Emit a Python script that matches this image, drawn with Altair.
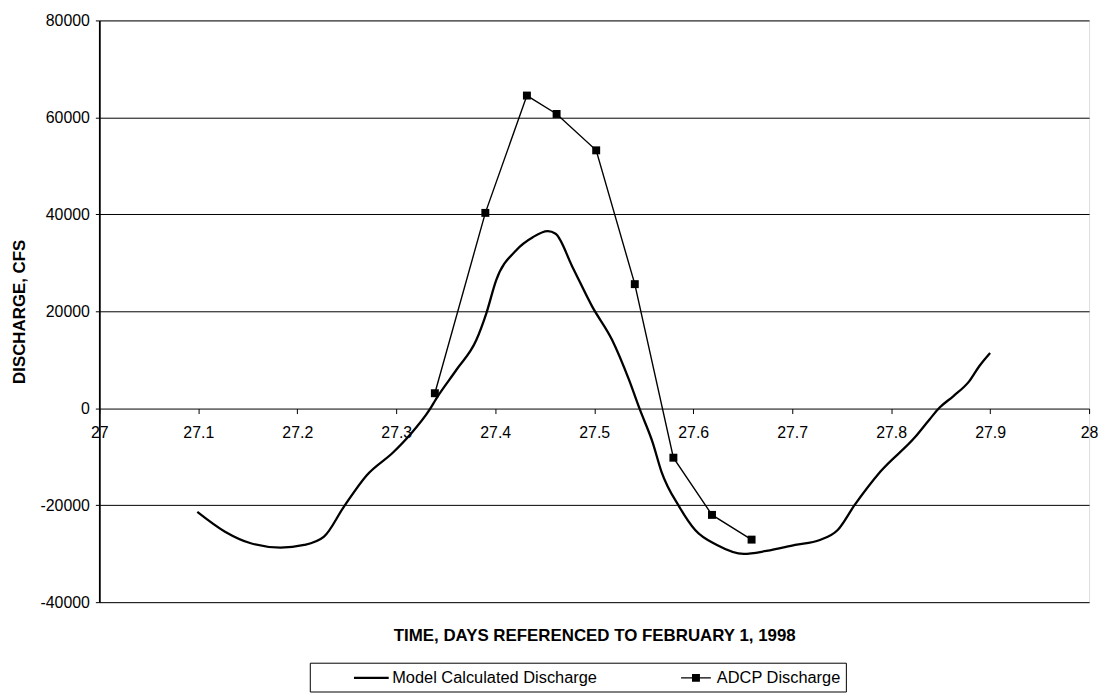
import altair as alt
import pandas as pd

# Model calculated discharge (days referenced to Feb 1, 1998; cfs)
model_t = [27.099, 27.127, 27.153, 27.183, 27.207, 27.227, 27.247, 27.270, 27.297, 27.313,
           27.334, 27.340, 27.361, 27.381, 27.391, 27.401, 27.421, 27.438, 27.453, 27.461,
           27.478, 27.498, 27.518, 27.535, 27.546, 27.559, 27.568, 27.586, 27.602, 27.624,
           27.651, 27.674, 27.703, 27.728, 27.746, 27.763, 27.789, 27.824, 27.839, 27.849,
           27.863, 27.879, 27.889, 27.900]
model_q = [-21370, -25460, -27850, -28740, -28200, -26490, -20340, -13860, -9080, -5670,
           -200, 1840, 7990, 14130, 19590, 26420, 32560, 35290, 36520, 35980,
           29150, 20960, 14130, 5940, -200, -7030, -13110, -20340, -25120, -28200,
           -30040, -29430, -28200, -27170, -25120, -20000, -13110, -6000, -2250, 140,
           2520, 5590, 8660, 11400]

# ADCP measured discharge
adcp_t = [27.339, 27.390, 27.432, 27.462, 27.502, 27.541, 27.580, 27.619, 27.659]
adcp_q = [3100, 40300, 64500, 60700, 53200, 25600, -10200, -22000, -27100]

series_names = ["Model Calculated Discharge", "ADCP Discharge"]
x_ticks = [27, 27.1, 27.2, 27.3, 27.4, 27.5, 27.6, 27.7, 27.8, 27.9, 28]
y_ticks = [-40000, -20000, 0, 20000, 40000, 60000, 80000]

model_df = pd.DataFrame({"t": model_t, "q": model_q, "series": series_names[0]})
adcp_df = pd.DataFrame({"t": adcp_t, "q": adcp_q, "series": series_names[1]})

FONT = "Liberation Sans"
W, H = 997, 586

x_scale = alt.Scale(domain=[27, 28], nice=False, zero=False)
y_scale = alt.Scale(domain=[-40000, 80000], nice=False, zero=False)

y_axis = alt.Axis(
    title="DISCHARGE, CFS", values=y_ticks,
    labelExpr="datum.value + ''",
    grid=True, gridColor="#000000", gridWidth=1, gridOpacity=1,
    domain=True, domainColor="#000000", domainWidth=1.8,
    ticks=True, tickColor="#000000", tickSize=4,
    labelFont=FONT, labelFontSize=16, labelColor="#000000", labelPadding=6,
    titleFont=FONT, titleFontSize=17, titleFontWeight="bold", titleColor="#000000",
    titlePadding=12,
)

x_axis_labels = alt.Axis(
    title=None, orient="bottom", values=x_ticks, offset=-195,
    grid=False, domain=False,
    ticks=True, tickColor="#000000", tickSize=5,
    labelFont=FONT, labelFontSize=16, labelColor="#000000", labelPadding=11,
    labelOverlap=False, labelFlush=False, labelBound=False,
    labelExpr="datum.value == 27 || datum.value == 28 ? format(datum.value, 'd') : format(datum.value, '.1f')",
)

x_axis_title = alt.Axis(
    title="TIME, DAYS REFERENCED TO FEBRUARY 1, 1998", orient="bottom",
    labels=False, ticks=False, domain=False, grid=False,
    titleFont=FONT, titleFontSize=17, titleFontWeight="bold", titleColor="#000000",
    titlePadding=26,
)

model_line = alt.Chart(model_df).mark_line(
    color="#000000", strokeWidth=2.3, interpolate="monotone"
).encode(
    x=alt.X("t:Q", scale=x_scale, axis=x_axis_labels),
    y=alt.Y("q:Q", scale=y_scale, axis=y_axis),
)

adcp_line = alt.Chart(adcp_df).mark_line(
    color="#000000", strokeWidth=1.4
).encode(
    x=alt.X("t:Q", scale=x_scale, axis=x_axis_title),
    y=alt.Y("q:Q", scale=y_scale),
)

adcp_pts = alt.Chart(adcp_df).mark_point(
    shape="square", filled=True, size=64, opacity=1, color="#000000"
).encode(
    x=alt.X("t:Q", scale=x_scale, axis=None),
    y=alt.Y("q:Q", scale=y_scale),
)

# legend symbols: a line, and a line with a square marker
legend_paths = [
    "M-1.75,-0.115H1.75V0.115H-1.75Z",
    "M-1.5,-0.07H1.5V0.07H-1.5ZM-0.4,-0.4H0.4V0.4H-0.4Z",
]

legend_def = alt.Legend(
    title=None, orient="none", direction="horizontal",
    legendX=212, legendY=647,
    strokeColor="#000000", fillColor="#ffffff", padding=5,
    symbolSize=400, symbolStrokeWidth=0, symbolOffset=47, symbolOpacity=1,
    symbolFillColor="#000000",
    labelOffset=11, columnPadding=42, labelLimit=500,
    labelFont=FONT, labelFontSize=16.5, labelColor="#000000",
)

legend_carrier = alt.Chart(adcp_df).mark_point(
    filled=True, opacity=0, size=0
).encode(
    x=alt.X("t:Q", scale=x_scale, axis=None),
    y=alt.Y("q:Q", scale=y_scale),
    color=alt.Color("series:N",
                    scale=alt.Scale(domain=series_names, range=["#000000", "#000000"]),
                    legend=legend_def),
    shape=alt.Shape("series:N",
                    scale=alt.Scale(domain=series_names, range=legend_paths),
                    legend=legend_def),
)

chart = alt.layer(model_line, adcp_line, adcp_pts, legend_carrier).resolve_axis(
    x="independent"
).properties(
    width=W, height=H,
    autosize=alt.AutoSizeParams(type="none"),
    padding={"left": 92, "top": 10, "right": 12, "bottom": 90},
).configure_view(
    stroke="#000000", strokeWidth=1.2
).configure(background="#ffffff")

chart.save("out.html", embed_options={"renderer": "svg", "actions": False})
